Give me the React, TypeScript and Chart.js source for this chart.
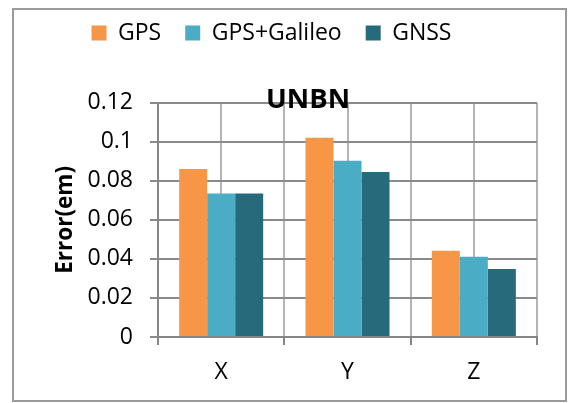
import { useEffect, useRef } from 'react';
import { Chart, registerables } from 'chart.js';

Chart.register(...registerables);

// Chart data
const CATEGORIES = ['X', 'Y', 'Z'];
const SERIES_NAMES = ['GPS', 'GPS+Galileo', 'GNSS'];
const GPS = [0.086, 0.102, 0.0442];
const GPS_GALILEO = [0.0735, 0.0903, 0.0411];
const GNSS = [0.0735, 0.0845, 0.0348];
const SERIES_COLORS = ['#F79646', '#4BACC6', '#276A7C'];

const Y_MIN = 0;
const Y_MAX = 0.12;
const Y_STEP = 0.02;

const TITLE = 'UNBN';
const Y_TITLE = 'Error(em)';

const FONT = "'Open Sans', sans-serif";
const LEGEND_BLOCK_HEIGHT = 105.2;

// Makes room between the legend row and the plot area.
const legendGap = {
  id: 'legendGap',
  beforeLayout(chart: any) {
    const legend = chart.legend;
    if (!legend || legend._gapPatched) return;
    const fit = legend.fit;
    legend.fit = function () {
      fit.call(this);
      this.height = LEGEND_BLOCK_HEIGHT;
    };
    legend._gapPatched = true;
  },
};

// Chart title drawn over the top of the plot area.
const titleOverlay = {
  id: 'titleOverlay',
  afterDraw(chart: any) {
    const { ctx, chartArea } = chart;
    ctx.save();
    ctx.font = `bold 27.5px ${FONT}`;
    ctx.fillStyle = '#000';
    ctx.textAlign = 'center';
    ctx.textBaseline = 'alphabetic';
    ctx.fillText(TITLE, chartArea.left + 150, chartArea.top + 5.3);
    ctx.restore();
  },
};

export default function App() {
  const ref = useRef<HTMLCanvasElement>(null);

  useEffect(() => {
    if (!ref.current) return;
    const seriesValues = [GPS, GPS_GALILEO, GNSS];
    const chart = new Chart(ref.current, {
      type: 'bar',
      data: {
        labels: CATEGORIES,
        datasets: SERIES_NAMES.map((name, i) => ({
          label: name,
          data: seriesValues[i],
          backgroundColor: SERIES_COLORS[i],
          borderColor: SERIES_COLORS[i],
          borderWidth: 0,
          categoryPercentage: 0.665,
          barPercentage: 1.0,
          xAxisID: 'x',
          yAxisID: 'y',
        })),
      },
      options: {
        animation: false,
        responsive: true,
        maintainAspectRatio: false,
        layout: { padding: { top: -2.5, right: 0, bottom: 2.4, left: 0 } },
        plugins: {
          title: { display: false },
          tooltip: { enabled: false },
          legend: {
            display: true,
            position: 'top',
            labels: {
              boxWidth: 15,
              boxHeight: 15,
              padding: 24,
              color: '#000',
              font: { family: FONT, size: 23 },
            },
          },
        },
        scales: {
          x: {
            type: 'category',
            position: 'bottom',
            offset: true,
            grid: {
              offset: true,
              color: '#b4b4b4',
              tickColor: '#868686',
              lineWidth: 2,
              tickLength: 8,
            },
            border: { color: '#868686', width: 2 },
            ticks: { color: '#000', font: { family: FONT, size: 23 }, padding: 14 },
          },
          x2: {
            type: 'category',
            position: 'bottom',
            labels: CATEGORIES,
            offset: true,
            grid: { offset: false, color: '#b4b4b4', lineWidth: 2, drawTicks: false },
            border: { display: false },
            ticks: { display: false },
          },
          y: {
            type: 'linear',
            position: 'left',
            min: Y_MIN,
            max: Y_MAX,
            ticks: {
              stepSize: Y_STEP,
              padding: 17,
              color: '#000',
              font: { family: FONT, size: 23 },
              callback: (v: any) => String(Number(Number(v).toFixed(2))),
            },
            grid: { color: '#8a8a8a', tickColor: '#8a8a8a', lineWidth: 2, tickLength: 8 },
            border: { color: '#868686', width: 2 },
            title: {
              display: true,
              text: Y_TITLE,
              color: '#000',
              font: { family: FONT, size: 22.5, weight: 'bold' },
              padding: { top: 52.5, bottom: 0 },
            },
            afterFit: (s: any) => {
              s.width = 158;
            },
          },
          yRight: {
            type: 'linear',
            position: 'right',
            display: true,
            ticks: { display: false },
            grid: { display: false },
            border: { display: false },
            afterFit: (s: any) => {
              s.width = 6;
            },
          },
        },
      } as any,
      plugins: [legendGap, titleOverlay],
    });
    return () => chart.destroy();
  }, []);

  return (
    <>
      <div
        style={{
          position: 'absolute',
          left: 12,
          top: 8,
          width: 555,
          height: 394,
          border: '2px solid #9b9b9b',
          boxSizing: 'border-box',
        }}
      />
      <div style={{ position: 'absolute', left: 0, top: 0, width: 543, height: 403 }}>
        <canvas ref={ref} />
      </div>
    </>
  );
}
